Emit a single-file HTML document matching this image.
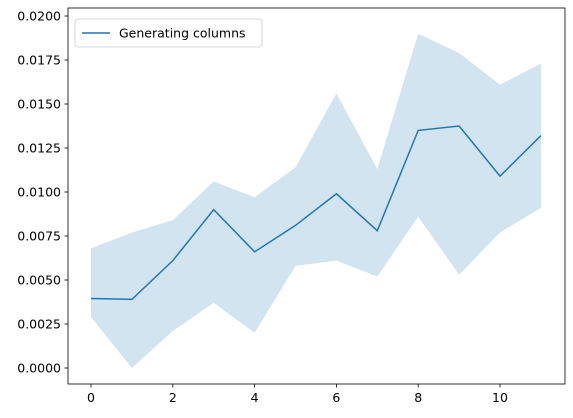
<!DOCTYPE html>
<html><head><meta charset="utf-8"><style>
body{margin:0;background:#fff;}
svg{display:block;font-family:"DejaVu Sans","Liberation Sans",sans-serif;}
</style></head><body>
<svg id="chart" width="573" height="418"></svg>
<script>
const xValues=[0,1,2,3,4,5,6,7,8,9,10,11];
const meanValues=[0.00395,0.0039,0.0061,0.0090,0.0066,0.0081,0.0099,0.0078,0.0135,0.01375,0.0109,0.0132];
const upperValues=[0.0068,0.0077,0.0084,0.0106,0.0097,0.0114,0.0156,0.0113,0.0190,0.0179,0.0161,0.0173];
const lowerValues=[0.0029,0.0000,0.0021,0.0037,0.0020,0.0058,0.0061,0.0052,0.0086,0.0053,0.0077,0.0091];
const xTicks=[0,2,4,6,8,10];
const yTicks=[0,0.0025,0.005,0.0075,0.01,0.0125,0.015,0.0175,0.02];
const seriesLabel="Generating columns";

const NS="http://www.w3.org/2000/svg";
const svg=document.getElementById('chart');
const L=68,R=565,T=8,B=384;
const xs=v=>91+v*40.9;
const ys=v=>368-v/0.0025*44;
function mk(tag,attrs,parent){const e=document.createElementNS(NS,tag);for(const k in attrs)e.setAttribute(k,attrs[k]);(parent||svg).appendChild(e);return e;}

let d='M'+xValues.map((x,i)=>xs(x)+','+ys(upperValues[i])).join('L');
for(let i=xValues.length-1;i>=0;i--)d+='L'+xs(xValues[i])+','+ys(lowerValues[i]);
const band=mk('path',{d:d+'Z',fill:'#1f77b4','fill-opacity':0.2,stroke:'none'});



const line=mk('polyline',{points:xValues.map((x,i)=>xs(x)+','+ys(meanValues[i])).join(' '),fill:'none',stroke:'#1f77b4','stroke-width':1.5});



const frame=mk('rect',{x:L,y:T,width:R-L,height:B-T,fill:'none',stroke:'#000','stroke-width':0.8});



xTicks.forEach(t=>{
  const g=mk('g',{});
  
  
  mk('line',{x1:xs(t),x2:xs(t),y1:B,y2:B+3.5,stroke:'#000','stroke-width':0.8},g);
  const tx=mk('text',{x:xs(t),y:B+18,'text-anchor':'middle','font-size':12.5,fill:'#000'},g);
  tx.textContent=t;
});
yTicks.forEach(t=>{
  const g=mk('g',{});
  
  
  mk('line',{x1:L-3.5,x2:L,y1:ys(t),y2:ys(t),stroke:'#000','stroke-width':0.8},g);
  const tx=mk('text',{x:L-7,y:ys(t)+4.5,'text-anchor':'end','font-size':12.5,fill:'#000'},g);
  tx.textContent=t.toFixed(4);
});

const lg=mk('g',{});


mk('rect',{x:75,y:19,width:187,height:28,rx:3,fill:'#fff','fill-opacity':0.8,stroke:'#ccc','stroke-width':0.8},lg);
mk('line',{x1:82,x2:110,y1:33,y2:33,stroke:'#1f77b4','stroke-width':1.5},lg);
const lt=mk('text',{x:119,y:37.5,'font-size':12.5,fill:'#000'},lg);
lt.textContent=seriesLabel;
</script>
</body></html>
